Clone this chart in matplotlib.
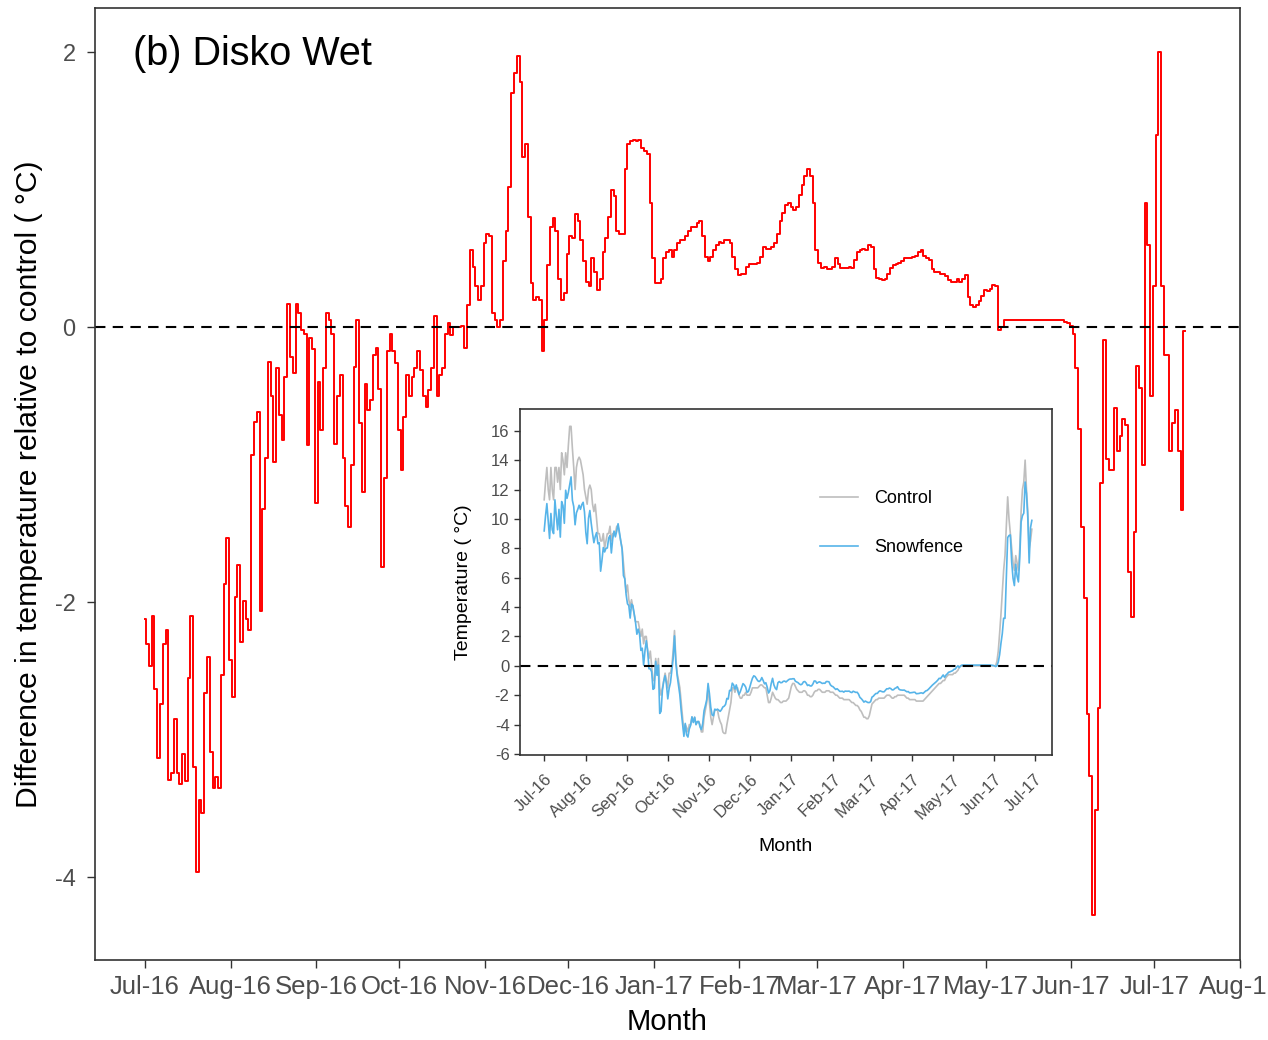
import numpy as np
import pandas as pd
import matplotlib
matplotlib.use('Agg')
import matplotlib.pyplot as plt
import matplotlib.dates as mdates

plt.rcParams['font.family'] = ['Liberation Sans', 'DejaVu Sans']
plt.rcParams['axes.unicode_minus'] = False

# daily mean difference (snowfence - control), starting 1 July 2016
diff = [
    -2.12, -2.30, -2.46, -2.10, -2.63, -3.13, -2.74,
    -2.30, -2.20, -3.29, -3.24, -2.85, -3.24, -3.32,
    -3.10, -3.30, -2.55, -2.10, -3.20, -3.96, -3.44,
    -3.53, -2.66, -2.40, -3.09, -3.35, -3.27, -3.35,
    -2.53, -1.87, -1.53, -2.42, -2.69, -1.96, -1.73,
    -2.29, -1.99, -2.12, -2.20, -0.93, -0.69, -0.62,
    -2.06, -1.32, -0.95, -0.25, -0.50, -0.98, -0.30,
    -0.64, -0.82, -0.36, 0.17, -0.22, -0.33, 0.17,
    0.10, -0.02, -0.05, -0.86, -0.08, -0.16, -1.28,
    -0.40, -0.75, -0.30, 0.10, 0.05, -0.05, -0.85,
    -0.50, -0.35, -0.95, -1.30, -1.45, -1.00, -0.29,
    0.05, -0.70, -1.20, -0.41, -0.60, -0.53, -0.20,
    -0.15, -0.45, -1.74, -1.10, -0.17, -0.05, -0.17,
    -0.26, -0.75, -1.04, -0.65, -0.35, -0.50, -0.36,
    -0.30, -0.17, -0.31, -0.50, -0.58, -0.46, -0.30,
    0.08, -0.50, -0.35, -0.30, -0.05, 0.03, -0.06,
    0.00, 0.00, 0.00, 0.01, -0.15, 0.16, 0.56,
    0.44, 0.30, 0.20, 0.30, 0.61, 0.68, 0.66,
    0.10, 0.05, 0.00, 0.05, 0.48, 0.70, 1.02,
    1.70, 1.85, 1.97, 1.78, 1.24, 1.33, 0.80,
    0.32, 0.20, 0.22, 0.20, -0.17, 0.05, 0.45,
    0.73, 0.79, 0.70, 0.35, 0.20, 0.25, 0.53,
    0.66, 0.65, 0.82, 0.77, 0.63, 0.48, 0.33,
    0.30, 0.50, 0.40, 0.27, 0.35, 0.55, 0.65,
    0.80, 1.00, 0.95, 0.70, 0.68, 0.68, 1.15,
    1.33, 1.35, 1.36, 1.35, 1.36, 1.30, 1.28,
    1.26, 0.90, 0.50, 0.32, 0.32, 0.35, 0.50,
    0.55, 0.56, 0.51, 0.56, 0.61, 0.63, 0.63,
    0.66, 0.70, 0.73, 0.73, 0.76, 0.77, 0.66,
    0.51, 0.48, 0.51, 0.56, 0.60, 0.62, 0.61,
    0.63, 0.63, 0.61, 0.51, 0.42, 0.38, 0.39,
    0.39, 0.44, 0.46, 0.46, 0.46, 0.47, 0.51,
    0.58, 0.57, 0.57, 0.58, 0.61, 0.68, 0.77,
    0.83, 0.89, 0.90, 0.87, 0.85, 0.87, 0.96,
    1.03, 1.10, 1.15, 1.10, 0.90, 0.56, 0.47,
    0.43, 0.44, 0.42, 0.42, 0.44, 0.50, 0.46,
    0.43, 0.43, 0.43, 0.44, 0.43, 0.49, 0.55,
    0.56, 0.57, 0.56, 0.60, 0.58, 0.42, 0.36,
    0.35, 0.34, 0.35, 0.39, 0.43, 0.45, 0.46,
    0.47, 0.48, 0.50, 0.50, 0.50, 0.51, 0.52,
    0.55, 0.56, 0.52, 0.50, 0.49, 0.42, 0.40,
    0.40, 0.39, 0.39, 0.37, 0.34, 0.33, 0.33,
    0.35, 0.33, 0.35, 0.38, 0.22, 0.16, 0.15,
    0.16, 0.19, 0.23, 0.27, 0.26, 0.28, 0.31,
    0.30, -0.02, 0.00, 0.05, 0.05, 0.05, 0.05,
    0.05, 0.05, 0.05, 0.05, 0.05, 0.05, 0.05,
    0.05, 0.05, 0.05, 0.05, 0.05, 0.05, 0.05,
    0.05, 0.05, 0.05, 0.05, 0.04, 0.03, 0.01,
    -0.05, -0.30, -0.74, -1.45, -1.97, -2.81, -3.26,
    -4.27, -3.51, -2.77, -1.13, -0.09, -0.96, -1.04,
    -1.04, -0.59, -0.90, -0.79, -0.67, -0.71, -1.78,
    -2.11, -1.49, -0.28, -0.44, -1.00, 0.90, 0.60,
    -0.50, 0.30, 1.40, 2.00, 0.30, -0.20, -0.20,
    -0.90, -0.70, -0.60, -0.90, -1.33, -0.03,
]

# daily mean temperature at the control plots (deg C), 1 July 2016 - 1 July 2017
control = [
    11.3, 12.5, 13.5, 12.0, 11.3, 13.5, 12.0,
    11.3, 13.5, 13.5, 12.5, 13.5, 12.0, 14.5,
    14.0, 13.0, 14.5, 13.5, 15.0, 16.3, 16.3,
    14.8, 13.5, 12.0, 13.5, 14.0, 14.2, 14.0,
    13.5, 13.0, 12.0, 11.5, 11.0, 12.0, 12.3,
    12.0, 11.0, 10.5, 11.0, 10.0, 9.0, 9.0,
    8.5, 8.5, 9.0, 8.0, 8.5, 9.0, 9.0,
    9.5, 8.5, 9.0, 9.0, 9.0, 9.5, 9.5,
    9.0, 8.5, 8.0, 7.0, 6.0, 5.0, 5.5,
    4.5, 4.0, 4.5, 4.0, 3.5, 3.0, 3.0,
    3.0, 2.5, 2.0, 2.5, 1.5, 2.0, 2.0,
    1.0, 0.5, 1.0, 0.0, -1.0, -1.0, 0.5,
    -0.5, 0.5, -1.5, -2.0, -1.5, -1.0, -0.5,
    -1.0, -1.5, -0.5, -0.5, 0.0, 1.0, 2.4,
    0.5, -0.5, -1.0, -1.5, -2.5, -3.5, -4.5,
    -4.0, -4.2, -4.5, -4.0, -4.0, -3.5, -3.8,
    -3.5, -4.0, -3.8, -3.8, -4.0, -4.5, -4.5,
    -3.5, -3.0, -2.5, -1.5, -2.5, -3.5, -4.0,
    -3.5, -3.0, -3.0, -3.0, -3.5, -3.8, -4.0,
    -4.5, -4.6, -4.6, -4.0, -3.5, -3.0, -2.5,
    -1.5, -1.5, -1.8, -1.5, -1.5, -2.0, -2.2,
    -2.2, -2.0, -2.0, -1.8, -2.0, -2.0, -2.0,
    -1.8, -1.5, -1.5, -1.5, -1.5, -1.5, -1.4,
    -1.3, -1.3, -1.4, -1.5, -1.5, -2.0, -2.5,
    -2.5, -2.2, -1.8, -2.0, -2.2, -2.3, -2.3,
    -2.4, -2.5, -2.5, -2.4, -2.4, -2.4, -2.3,
    -2.2, -1.8, -1.4, -1.2, -1.2, -1.4, -1.6,
    -1.7, -1.8, -1.8, -1.8, -1.7, -1.7, -1.8,
    -2.0, -2.0, -2.1, -2.1, -2.0, -1.8, -1.7,
    -1.7, -1.6, -1.6, -1.7, -1.8, -1.8, -1.8,
    -1.7, -1.7, -1.7, -1.8, -1.8, -1.8, -1.9,
    -2.0, -2.0, -2.1, -2.2, -2.2, -2.2, -2.3,
    -2.3, -2.3, -2.3, -2.3, -2.4, -2.5, -2.5,
    -2.6, -2.7, -2.7, -2.8, -3.0, -3.1, -3.3,
    -3.5, -3.5, -3.6, -3.6, -3.4, -3.0, -2.6,
    -2.5, -2.4, -2.3, -2.3, -2.2, -2.2, -2.2,
    -2.2, -2.2, -2.1, -2.0, -2.0, -2.0, -2.1,
    -2.2, -2.2, -2.1, -2.1, -2.0, -2.0, -2.0,
    -2.0, -2.0, -2.0, -2.1, -2.2, -2.2, -2.3,
    -2.3, -2.3, -2.3, -2.3, -2.4, -2.4, -2.4,
    -2.4, -2.4, -2.4, -2.3, -2.2, -2.1, -2.0,
    -1.9, -1.8, -1.7, -1.6, -1.5, -1.4, -1.3,
    -1.2, -1.2, -1.1, -1.0, -1.0, -0.8, -0.7,
    -0.6, -0.6, -0.6, -0.6, -0.5, -0.5, -0.4,
    -0.3, -0.1, 0.0, 0.0, 0.0, 0.0, 0.0,
    0.0, 0.0, 0.0, 0.0, 0.0, 0.0, 0.0,
    0.0, 0.0, 0.0, 0.0, 0.0, 0.0, 0.0,
    0.0, 0.0, 0.0, 0.0, 0.0, 0.0, 0.0,
    0.0, 0.3, 1.0, 2.2, 3.5, 5.0, 6.5,
    7.5, 9.5, 11.5, 10.0, 9.0, 8.0, 7.0,
    6.5, 7.5, 7.0, 6.5, 8.0, 10.5, 12.0,
    12.5, 14.0, 12.0, 10.5, 8.0, 8.5, 9.3,
]

start = pd.Timestamp('2016-07-01')
dates = pd.date_range(start, periods=len(diff), freq='D')
inset_dates = dates[:len(control)]
# snowfence plots = control + difference
snowfence = np.array(control) + np.array(diff[:len(control)])

axis_col = '#333333'
tick_col = '#4D4D4D'

fig = plt.figure(figsize=(12.68, 10.4), dpi=100)

# main panel
ax = fig.add_axes([95 / 1268, 80 / 1040, 1145 / 1268, 952 / 1040])
ax.plot(dates, diff, color='red', lw=1.4, drawstyle='steps-mid')
ax.axhline(0, color='black', lw=1.5, ls=(0, (5, 3.5)))
ax.set_xlim(pd.Timestamp('2016-06-13'), pd.Timestamp('2017-08-01'))
ax.set_ylim(-4.6, 2.32)
ax.set_yticks([-4, -2, 0, 2])
ax.xaxis.set_major_locator(mdates.MonthLocator())
ax.xaxis.set_major_formatter(mdates.DateFormatter('%b-%y'))
ax.tick_params(length=6, width=1, color=axis_col, labelcolor=tick_col, labelsize=17)
ax.tick_params(axis='y', pad=8)
ax.tick_params(axis='x', pad=5, labelsize=18.5)
for s in ax.spines.values():
    s.set_color(axis_col)
    s.set_linewidth(1.2)
ax.set_ylabel('Difference in temperature relative to control ( \u00b0C)', fontsize=21.7)
ax.yaxis.set_label_coords(-0.045, 0.5)
ax.set_xlabel('Month', fontsize=21, va='top')
ax.xaxis.set_label_coords(0.5, -0.05)
ax.text(0.0332, 0.9716, '(b) Disko Wet', transform=ax.transAxes,
        fontsize=28.5, va='top', ha='left')

# inset: temperatures at both treatments
axin = fig.add_axes([520 / 1268, 285 / 1040, 532 / 1268, 346 / 1040])
axin.plot(inset_dates, control, color='#BEBEBE', lw=1.2, label='Control')
axin.plot(inset_dates, snowfence, color='#56B4E9', lw=1.2, label='Snowfence')
axin.axhline(0, color='black', lw=1.5, ls=(0, (5, 3.5)))
axin.set_xlim(pd.Timestamp('2016-06-13'), pd.Timestamp('2017-07-14'))
axin.set_ylim(-6.07, 17.48)
axin.set_yticks(np.arange(-6, 17, 2))
axin.xaxis.set_major_locator(mdates.MonthLocator())
axin.xaxis.set_major_formatter(mdates.DateFormatter('%b-%y'))
axin.tick_params(length=4, width=1, color=axis_col, labelcolor=tick_col, labelsize=12)
axin.tick_params(axis='x', pad=8)
plt.setp(axin.get_xticklabels(), rotation=45, ha='right', va='top', rotation_mode='anchor')
for s in axin.spines.values():
    s.set_color(axis_col)
    s.set_linewidth(1.2)
axin.set_ylabel('Temperature ( \u00b0C)', fontsize=14)
axin.yaxis.set_label_coords(-0.09, 0.5)
axin.set_xlabel('Month', fontsize=14, va='top')
axin.xaxis.set_label_coords(0.5, -0.24)
axin.legend(loc='upper left', bbox_to_anchor=(0.564, 0.765), frameon=False,
            fontsize=13, handlelength=2.1, handletextpad=0.9, labelspacing=1.75,
            borderpad=0, borderaxespad=0)

fig.savefig('out.png', dpi=100)
